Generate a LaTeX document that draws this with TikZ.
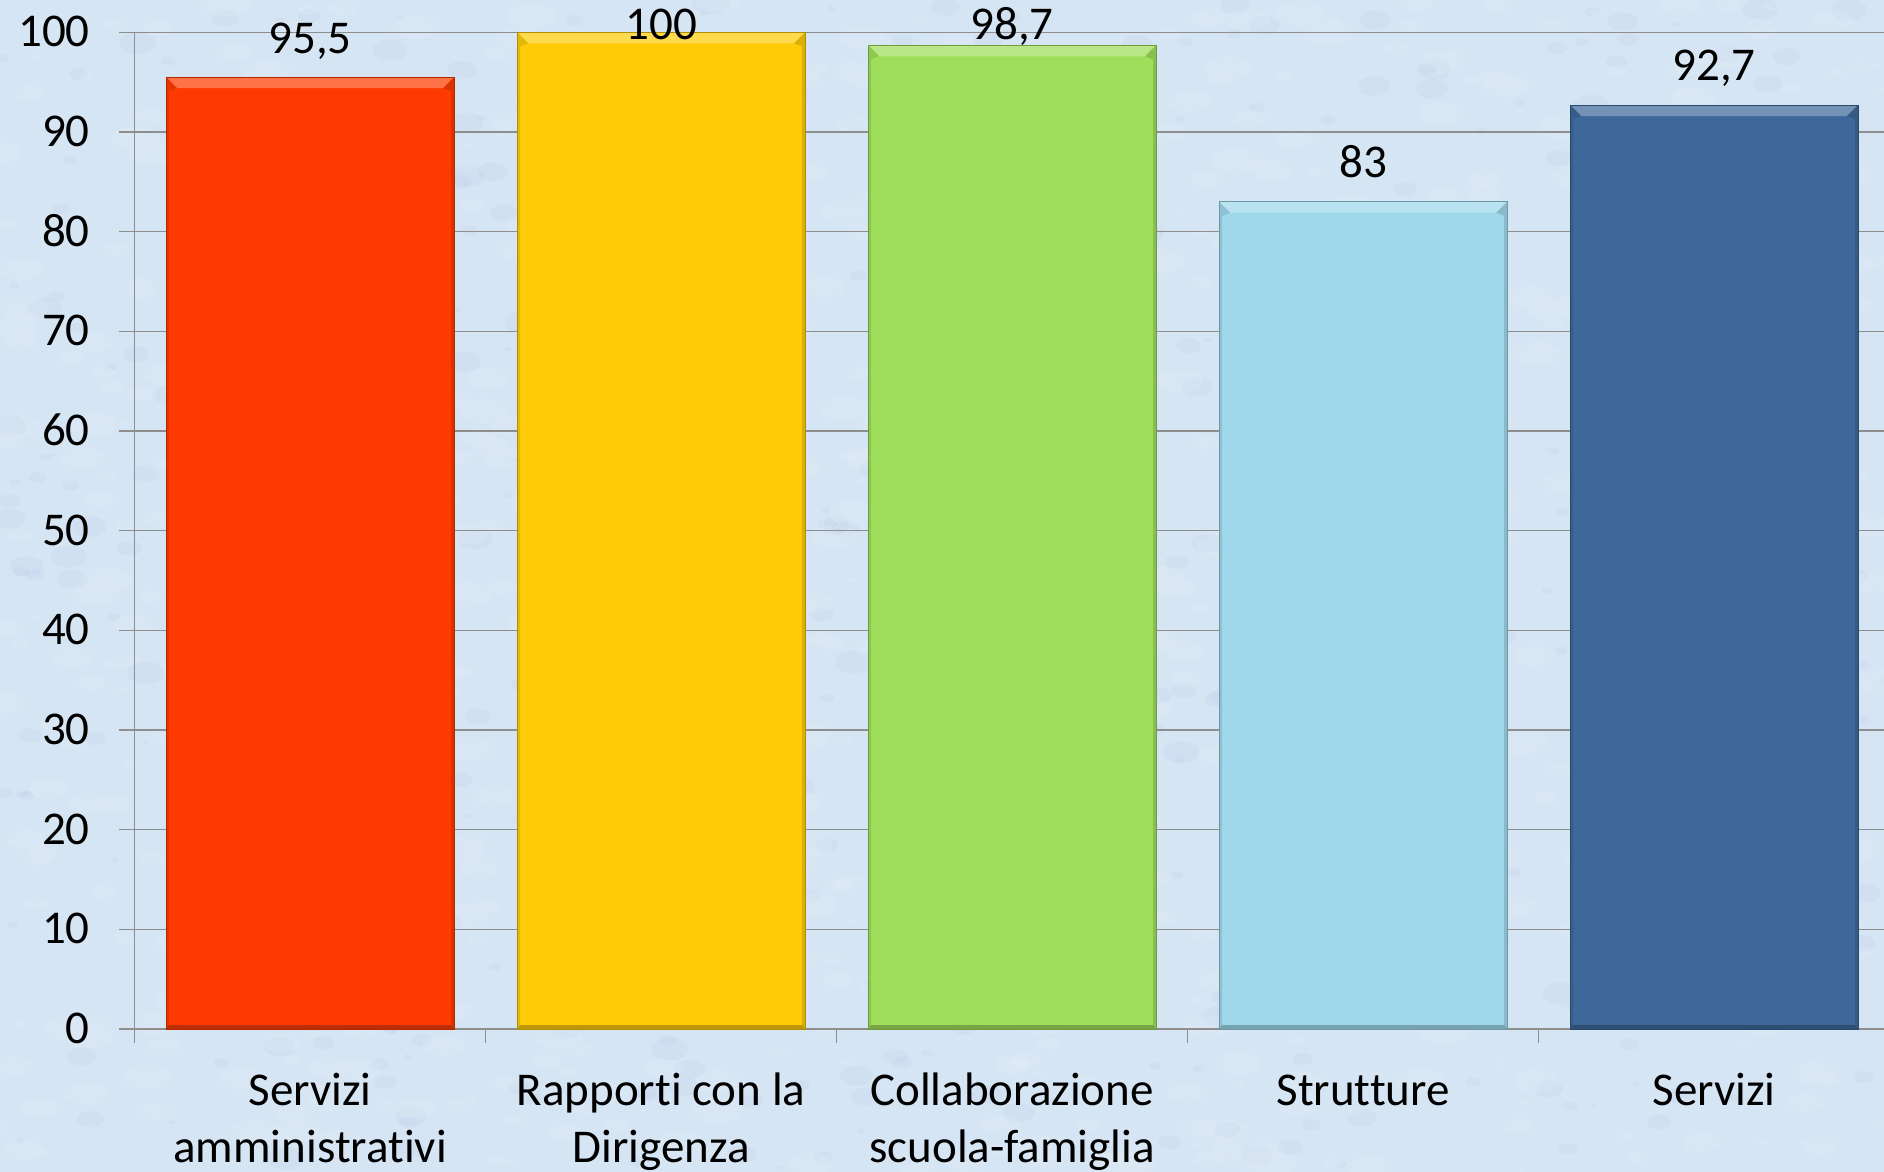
\documentclass[tikz,border=0pt]{standalone}
\usepackage{fontspec}
\setmainfont{Carlito}[Ligatures=NoCommon]
\definecolor{bgblue}{HTML}{D6E5F4}
\definecolor{gridgray}{HTML}{8E8E8E}
\definecolor{cred}{HTML}{FF3A00}
\definecolor{cyellow}{HTML}{FFCB08}
\definecolor{cgreen}{HTML}{9EDE5A}
\definecolor{clblue}{HTML}{9ED8EA}
\definecolor{cdblue}{HTML}{3D6899}
\tikzset{
  gridline/.style={draw=gridgray, line width=1.5pt},
  axislabel/.style={font=\fontsize{47}{57}\selectfont, inner sep=0pt, anchor=base east},
  valuelabel/.style={font=\fontsize{47}{57}\selectfont, inner sep=0pt, anchor=base},
  catlabel/.style={font=\fontsize{47}{57}\selectfont, inner sep=0pt, anchor=base, align=center},
}
\begin{document}
\begin{tikzpicture}[x=1pt, y=-1pt]
\useasboundingbox (0,0) rectangle (1884,1172);
\fill[bgblue] (0,0) rectangle (1884,1172);
% background texture
\pgfmathsetseed{7}
\begin{scope}
\clip (0,0) rectangle (1884,1172);
\foreach \i in {1,...,900}{
  \pgfmathsetmacro\xx{rnd*1884}
  \pgfmathsetmacro\yy{rnd*1172}
  \pgfmathsetmacro\rr{4+rnd*22}
  \fill[white, opacity=0.08] (\xx,\yy) ellipse [x radius=\rr, y radius=0.5*\rr];
}
\foreach \i in {1,...,500}{
  \pgfmathsetmacro\xx{rnd*1884}
  \pgfmathsetmacro\yy{rnd*1172}
  \pgfmathsetmacro\rr{3+rnd*16}
  \fill[blue!40!gray, opacity=0.03] (\xx,\yy) ellipse [x radius=\rr, y radius=0.6*\rr];
}
\end{scope}
% grid lines and y labels
\foreach \v in {0,10,...,100}{
  \pgfmathsetmacro\yy{1029-\v*9.967}
  \coordinate (g\v) at (134.6,\yy);
  \coordinate (ge\v) at (1884,\yy);
  \coordinate (gt\v) at (119,\yy);
  \draw[gridline] (gt\v) -- (ge\v);
  \node[axislabel] (yl\v) at (90,\yy+14.5) {\v};
}
% axes
\coordinate (ytop) at (134.6,32);
\coordinate (ybot) at (134.6,1043);
\draw[gridline] (ytop) -- (ybot);
\foreach \k in {1,2,3,4}{
  \pgfmathsetmacro\xx{134.6+351*\k}
  \coordinate (xt\k a) at (\xx,1029);
  \coordinate (xt\k b) at (\xx,1043);
  \draw[gridline] (xt\k a) -- (xt\k b);
}
% bars
\foreach \cx/\val/\col/\nm in {310.1/95.5/cred/a, 661.1/100/cyellow/b, 1012.1/98.7/cgreen/c, 1363.1/83/clblue/d, 1714.1/92.7/cdblue/e}{
  \pgfmathsetmacro\xl{\cx-144}
  \pgfmathsetmacro\xr{\cx+144}
  \pgfmathsetmacro\yt{1029-\val*9.967}
  \def\yb{1029}
  \fill[\col] (\xl,\yt) rectangle (\xr,\yb);
  \fill[\col!72!white] (\xl,\yt) -- (\xr,\yt) -- (\xr-11,\yt+11) -- (\xl+11,\yt+11) -- cycle;
  \fill[\col!90!black] (\xl,\yt) -- (\xl+11,\yt+11) -- (\xl+3,\yt+14) -- (\xl+3,\yb-3) -- (\xl,\yb) -- cycle;
  \fill[\col!86!black] (\xr,\yt) -- (\xr-11,\yt+11) -- (\xr-3,\yt+14) -- (\xr-3,\yb-3) -- (\xr,\yb) -- cycle;
  \fill[\col!75!black] (\xl,\yb) -- (\xr,\yb) -- (\xr-3,\yb-4) -- (\xl+3,\yb-4) -- cycle;
  \draw[\col!70!black, line width=1pt] (\xl,\yt) rectangle (\xr,\yb);
  \coordinate (bar\nm) at (\cx,\yt);
}
% value labels
\node[valuelabel] (va) at (310.1,53) {95,5};
\node[valuelabel] (vb) at (661.1,40) {100};
\node[valuelabel] (vc) at (1012.1,40) {98,7};
\node[valuelabel] (vd) at (1363.1,177.5) {83};
\node[valuelabel] (ve) at (1714.1,81) {92,7};
% category labels (base = last line baseline)
\node[catlabel] (ca) at (310.1,1162) {Servizi\\amministrativi};
\node[catlabel] (cb) at (661.1,1162) {Rapporti con la\\Dirigenza};
\node[catlabel] (cc) at (1012.1,1162) {Collaborazione\\scuola-famiglia};
\node[catlabel] (cd) at (1363.1,1105) {Strutture};
\node[catlabel] (ce) at (1714.1,1105) {Servizi};
\end{tikzpicture}
\end{document}
